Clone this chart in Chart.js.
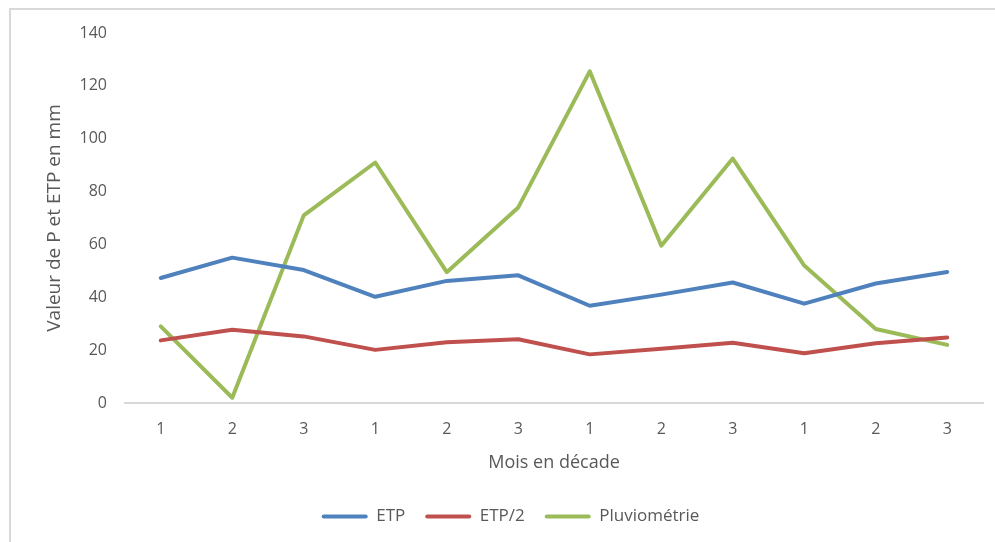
<!DOCTYPE html>
<html>
<head>
<meta charset="utf-8">
<script src="https://cdn.jsdelivr.net/npm/chart.js@4/dist/chart.umd.min.js"></script>
<style>
  html, body { margin: 0; padding: 0; background: #fff; overflow: hidden; }
  #wrap { position: relative; width: 995px; height: 542px; }
  #frame { position: absolute; left: 9px; top: 8px; width: 1100px; height: 700px; border: 2px solid #d9d9d9; box-sizing: border-box; pointer-events: none; }
  canvas { position: absolute; left: 0; top: 0; }
</style>
</head>
<body>
<div id="wrap">
  <canvas id="c" width="995" height="542"></canvas>
  <div id="frame"></div>
</div>
<script>
const categories = ['1', '2', '3', '1', '2', '3', '1', '2', '3', '1', '2', '3'];
const etp = [47.3, 55, 50.3, 40.2, 46.2, 48.3, 36.8, 41, 45.6, 37.6, 45.2, 49.6];
const etpHalf = [23.7, 27.7, 25.2, 20.1, 23, 24.1, 18.4, 20.5, 22.8, 18.8, 22.6, 24.8];
const pluvio = [29, 2, 71, 91, 49.5, 74, 125.5, 59.5, 92.5, 52, 28, 22];
const seriesNames = ['ETP', 'ETP/2', 'Pluviométrie'];
const yTicks = [0, 20, 40, 60, 80, 100, 120, 140];

const FONT = '"Open Sans", Lato, sans-serif';
const TXT = '#595959';
const colors = ['#4f81bd', '#c0504d', '#9bbb59'];

const mk = (label, data, color) => ({
  label, data,
  borderColor: color, backgroundColor: color,
  borderWidth: 4, pointRadius: 0, pointHoverRadius: 0,
  tension: 0, borderJoinStyle: 'round', borderCapStyle: 'round', fill: false
});

new Chart(document.getElementById('c'), {
  type: 'line',
  data: {
    labels: categories,
    datasets: [mk(seriesNames[0], etp, colors[0]), mk(seriesNames[1], etpHalf, colors[1]), mk(seriesNames[2], pluvio, colors[2])]
  },
  options: {
    responsive: false,
    animation: false,
    events: [],
    layout: { padding: { left: 38, right: 12, top: 33, bottom: 7 } },
    scales: {
      x: {
        offset: true,
        grid: { display: false, drawTicks: false },
        border: { display: true, color: '#d9d9d9', width: 2 },
        ticks: { color: TXT, font: { family: FONT, size: 16 }, padding: 17, maxRotation: 0 },
        title: { display: true, text: 'Mois en décade', color: TXT, font: { family: FONT, size: 18 }, padding: { top: 4, bottom: 14 } },
        afterFit: (s) => { s.height = 85; }
      },
      y: {
        min: 0, max: 140,
        afterBuildTicks: (s) => { s.ticks = yTicks.map(v => ({ value: v })); },
        afterFit: (s) => { s.width = 87; },
        grid: { display: false, drawTicks: false },
        border: { display: false },
        ticks: { color: TXT, font: { family: FONT, size: 16 }, padding: 18 },
        title: { display: true, text: 'Valeur de P et ETP en mm', color: TXT, font: { family: FONT, size: 19 }, padding: { top: 5, bottom: 0 } }
      }
    },
    plugins: {
      tooltip: { enabled: false },
      legend: {
        position: 'bottom',
        labels: {
          color: TXT,
          font: { family: FONT, size: 17 },
          boxWidth: 46, boxHeight: 4,
          padding: 20,
          generateLabels: (chart) => chart.data.datasets.map((d, i) => ({
            text: d.label, fillStyle: d.borderColor, strokeStyle: d.borderColor,
            lineWidth: 0, fontColor: TXT, datasetIndex: i, hidden: false, borderRadius: 2
          })),
          useBorderRadius: true, borderRadius: 2
        }
      }
    }
  }
});
</script>
</body>
</html>
